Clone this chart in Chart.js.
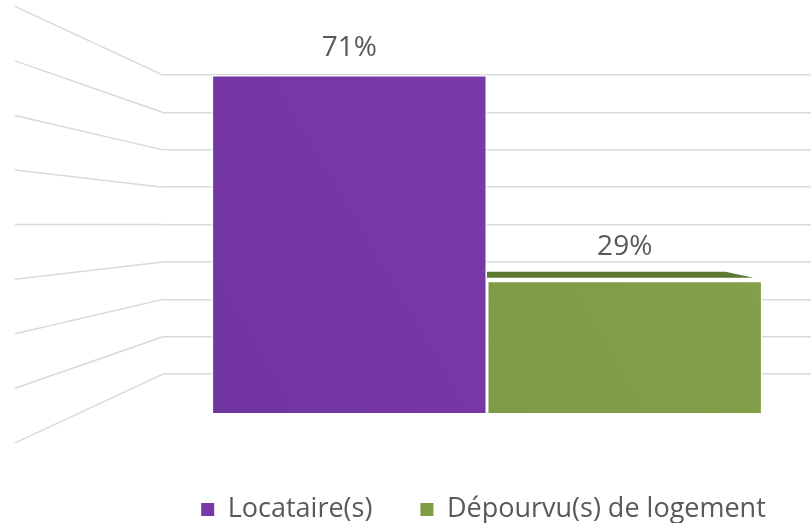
<!DOCTYPE html>
<html>
<head>
<meta charset="utf-8">
<script src="https://cdn.jsdelivr.net/npm/chart.js@4/dist/chart.umd.min.js"></script>
<style>
  html, body { margin: 0; padding: 0; background: #ffffff; }
  #box { width: 811px; height: 523px; }
</style>
</head>
<body>
<div id="box"><canvas id="myChart"></canvas></div>
<script>
// données
var categories = [''];
var seriesNames = ['Locataire(s)', 'Dépourvu(s) de logement'];
var seriesValues = [[71], [29]];
var seriesColors = ['#7639A5', '#7F9C47'];
var seriesLight = ['#7E3EAC', '#85A24C'];
var seriesDark = ['#7034A0', '#7A9643'];
var topColors = [null, '#5D7830'];
var wallTicks = [1, 2, 3, 4, 5, 6, 7, 8, 9];

var gridColor = '#D9D9D9';
var textColor = '#595959';

// murs en perspective (lignes de fuite à gauche)
var wallPlugin = {
    id: 'wall',
    beforeDatasetsDraw: function (chart) {
        var ctx = chart.ctx;
        var sc = chart.scales.y2;
        var left = chart.chartArea.left;
        var cy = sc.getPixelForValue(5);
        ctx.save();
        ctx.strokeStyle = gridColor;
        ctx.lineWidth = 1.5;
        for (var i = 0; i < wallTicks.length; i++) {
            var yr = sc.getPixelForValue(wallTicks[i]);
            var yl = cy + 1.46 * (yr - cy);
            ctx.beginPath();
            ctx.moveTo(left - 148, yl);
            ctx.lineTo(left, yr);
            ctx.stroke();
        }
        ctx.restore();
    }
};

// face du dessus + étiquettes
var labelPlugin = {
    id: 'labels',
    afterDatasetsDraw: function (chart) {
        var ctx = chart.ctx;
        ctx.save();
        chart.data.datasets.forEach(function (ds, i) {
            var bar = chart.getDatasetMeta(i).data[0];
            var l = bar.x - bar.width / 2;
            var w = bar.width;
            var off = 27;
            if (topColors[i]) {
                ctx.fillStyle = topColors[i];
                ctx.beginPath();
                ctx.moveTo(l, bar.y - 9);
                ctx.lineTo(l + w - 37, bar.y - 9);
                ctx.lineTo(l + w - 9, bar.y - 3);
                ctx.lineTo(l, bar.y - 3);
                ctx.closePath();
                ctx.fill();
                off = 34;
            }
            ctx.fillStyle = textColor;
            ctx.font = '28px "Open Sans"';
            ctx.textAlign = 'center';
            ctx.textBaseline = 'middle';
            ctx.fillText(ds.data[0] + '%', bar.x, bar.y - off);
        });
        ctx.restore();
    }
};

function barFill(i) {
    return function (c) {
        var ca = c.chart.chartArea;
        if (!ca) return seriesColors[i];
        var g = c.chart.ctx.createLinearGradient(ca.left, ca.bottom, ca.right, ca.top);
        g.addColorStop(0, seriesDark[i]);
        g.addColorStop(1, seriesLight[i]);
        return g;
    };
}

var datasets = [];
for (var i = 0; i < seriesNames.length; i++) {
    datasets.push({
        label: seriesNames[i],
        data: seriesValues[i],
        backgroundColor: barFill(i),
        borderColor: 'rgba(255,255,255,0.85)',
        borderWidth: 1.5,
        categoryPercentage: 0.85,
        barPercentage: 1,
        clip: 0
    });
}

var config = {
    type: 'bar',
    data: {
        labels: categories,
        datasets: datasets
    },
    options: {
        responsive: true,
        maintainAspectRatio: false,
        animation: false,
        layout: {
            padding: { top: 31, left: 153, right: -3, bottom: -10 }
        },
        scales: {
            x: {
                display: true,
                ticks: { display: false },
                grid: { display: false },
                border: { display: false },
                afterFit: function (s) { s.height = 35; }
            },
            y: {
                display: false,
                min: 2,
                max: 80
            },
            y2: {
                display: true,
                position: 'left',
                min: -0.04,
                max: 10.18,
                ticks: { display: false, stepSize: 1 },
                grid: { color: gridColor, lineWidth: 1.5, drawTicks: false },
                border: { display: false },
                afterBuildTicks: function (s) {
                    s.ticks = wallTicks.map(function (v) { return { value: v }; });
                },
                afterFit: function (s) { s.width = 10; }
            }
        },
        plugins: {
            legend: {
                position: 'bottom',
                labels: {
                    color: textColor,
                    font: { family: 'Open Sans', size: 27 },
                    boxWidth: 13,
                    boxHeight: 13,
                    padding: 48,
                    generateLabels: function (chart) {
                        var items = Chart.defaults.plugins.legend.labels.generateLabels(chart);
                        items.forEach(function (it, k) {
                            it.lineWidth = 0;
                            it.fillStyle = seriesColors[k];
                        });
                        return items;
                    }
                }
            },
            tooltip: { enabled: false }
        }
    },
    plugins: [wallPlugin, labelPlugin]
};

var myChart = new Chart(document.getElementById('myChart'), config);
</script>
</body>
</html>
